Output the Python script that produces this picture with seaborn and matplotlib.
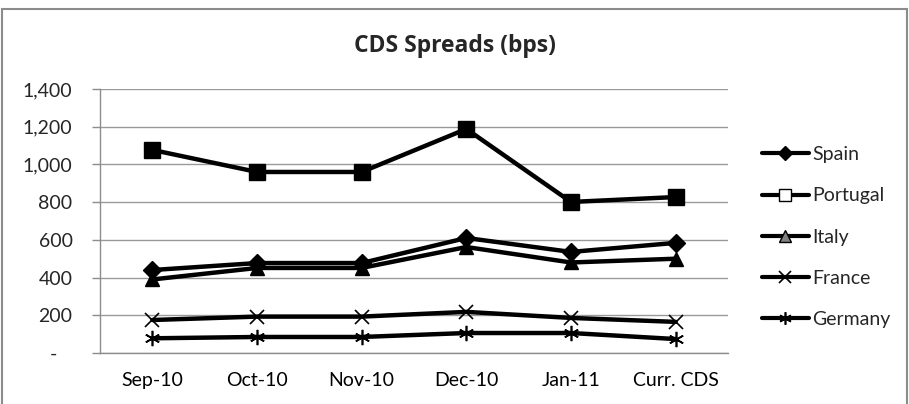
import matplotlib
matplotlib.use("Agg")
import matplotlib.pyplot as plt
import seaborn as sns
import pandas as pd
from matplotlib.lines import Line2D
from matplotlib.patches import Rectangle

categories = ["Sep-10", "Oct-10", "Nov-10", "Dec-10", "Jan-11", "Curr. CDS"]
spain = [440, 477, 477, 610, 536, 584]
portugal = [1077, 960, 960, 1188, 801, 827]
italy = [390, 451, 451, 562, 480, 500]
france = [175, 193, 193, 218, 186, 165]
germany = [78, 85, 85, 106, 106, 74]
y_ticks = [0, 200, 400, 600, 800, 1000, 1200, 1400]
y_labels = ["-   ", "200", "400", "600", "800", "1,000", "1,200", "1,400"]

sns.set_theme(style="white")
plt.rcParams["font.family"] = ["Lato", "DejaVu Sans"]

FS = 14

fig = plt.figure(figsize=(9.09, 4.04), dpi=100)
ax = fig.add_axes([100/909, 1-353/404, 628/909, 264/404])

series = [
    ("Spain", spain, "D", 9, "black", 1),
    ("Portugal", portugal, "s", 11, "black", 1),
    ("Italy", italy, "^", 10, "black", 1),
    ("France", france, "x", 10, "black", 1.2),
    ("Germany", germany, (6, 2, 0), 11, "black", 1.2),
]
x = list(range(len(categories)))
for name, vals, mk, ms, fc, mew in series:
    df = pd.DataFrame({"x": x, "y": vals})
    sns.lineplot(data=df, x="x", y="y", ax=ax, color="black", linewidth=3.2,
                 marker=mk, markersize=ms, markerfacecolor=fc,
                 markeredgecolor="black", markeredgewidth=mew, zorder=3)

ax.set_xlim(-0.5, len(categories) - 0.5)
ax.set_ylim(0, 1400)
ax.set_yticks(y_ticks)
ax.set_yticklabels(y_labels)
ax.set_xticks(x)
ax.set_xticklabels(categories)
ax.set_xticks([i - 0.5 for i in range(len(categories) + 1)], minor=True)
ax.tick_params(axis="x", which="major", length=0, pad=14, labelsize=FS, colors="black")
ax.tick_params(axis="x", which="minor", length=5, width=1, color="#8c8c8c", direction="out")
ax.tick_params(axis="y", which="major", length=5.8, width=1, color="#8c8c8c",
               direction="out", pad=14, labelsize=FS, left=True)
ax.set_xlabel("")
ax.set_ylabel("")
ax.yaxis.grid(True, color="#9a9a9a", linewidth=1)
ax.set_axisbelow(True)
for s in ["top", "right"]:
    ax.spines[s].set_visible(False)
for s in ["left", "bottom"]:
    ax.spines[s].set_color("#8c8c8c")
    ax.spines[s].set_linewidth(1)

fig.text(455/909, 1-46/404, "CDS Spreads (bps)", ha="center", va="center",
         fontsize=16.5, fontweight="bold", family=["Open Sans", "DejaVu Sans"])

handles = [
    Line2D([], [], color="black", lw=3, marker="D", markersize=7, markerfacecolor="black"),
    Line2D([], [], color="black", lw=3, marker="s", markersize=9, markerfacecolor="white",
           markeredgecolor="black", markeredgewidth=1),
    Line2D([], [], color="black", lw=3, marker="^", markersize=8, markerfacecolor="#808080",
           markeredgecolor="black", markeredgewidth=1),
    Line2D([], [], color="black", lw=3, marker="x", markersize=8, markeredgewidth=1.2),
    Line2D([], [], color="black", lw=3, marker=(6, 2, 0), markersize=9, markeredgewidth=1.2),
]
labels = [s[0] for s in series]
fig.legend(handles, labels, loc="upper left", bbox_to_anchor=(762/909, 1-146/404),
           frameon=False, fontsize=FS, handlelength=2.4, handletextpad=0.2,
           labelspacing=1.25, borderpad=0, borderaxespad=0)

fig.patches.append(Rectangle((2/909, -0.02), 905/909, 1-9/404+0.02, transform=fig.transFigure,
                             fill=False, edgecolor="#8c8c8c", linewidth=1.5))

fig.savefig("out.png", dpi=100)
